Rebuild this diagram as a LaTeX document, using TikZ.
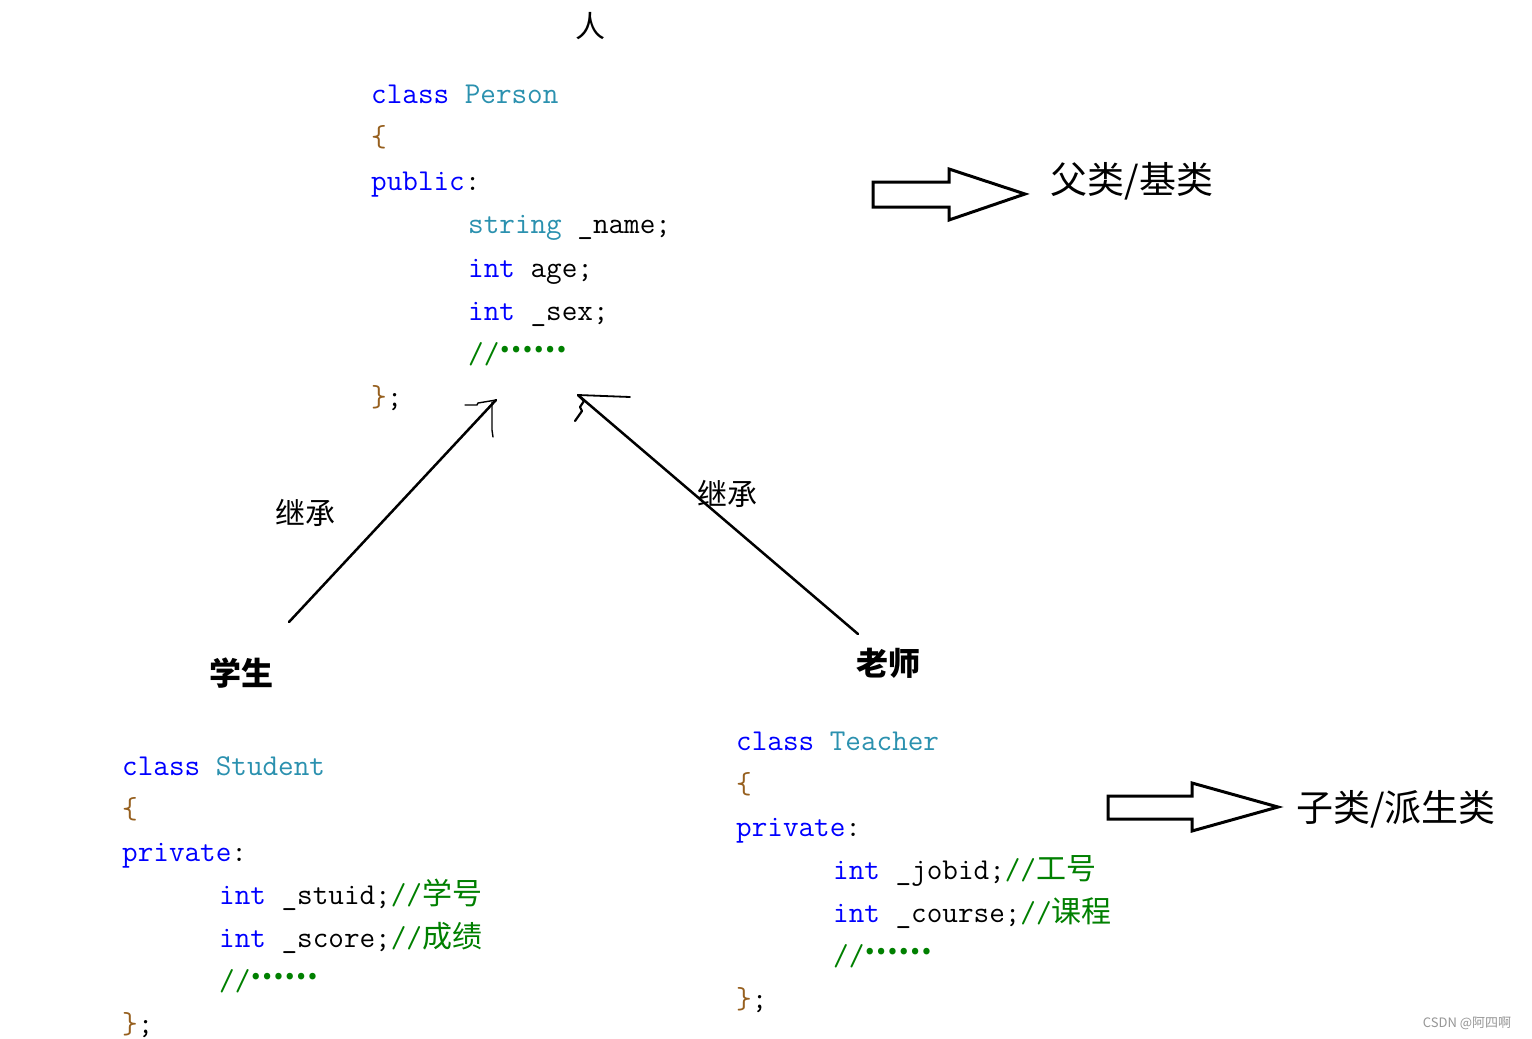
\documentclass[tikz,border=0pt]{standalone}
\usepackage{fontspec}
\newfontfamily\cjk{Noto Sans CJK SC}
\definecolor{kwblue}{RGB}{0,0,255}
\definecolor{tyteal}{RGB}{43,145,175}
\definecolor{brbrown}{RGB}{150,95,30}
\definecolor{cmgreen}{RGB}{0,128,0}
\definecolor{wmgray}{RGB}{150,150,150}
\newcommand\codefont{\ttfamily\fontsize{30.3}{32}\selectfont}
\newcommand\codekw[1]{\textcolor{kwblue}{#1}}
\newcommand\codety[1]{\textcolor{tyteal}{#1}}
\newcommand\codebr[1]{\textcolor{brbrown}{#1}}
\newcommand\codecm[1]{\textcolor{cmgreen}{#1}}
\newcommand\codezh[1]{{\cjk\fontsize{30}{30}\selectfont #1}}
\newcommand\codedots{\raisebox{11pt}{\cjk\bfseries\fontsize{30}{30}\selectfont ……}}
\tikzset{
  code/.style={anchor=base west, inner sep=0pt, font=\codefont},
  label/.style={inner sep=0pt, font=\cjk\fontsize{30}{30}\selectfont},
  title/.style={inner sep=0pt, font=\cjk\bfseries\fontsize{32}{32}\selectfont},
  role/.style={inner sep=0pt, font=\cjk\fontsize{37}{37}\selectfont},
  conn/.style={line width=2.5pt, line cap=round, line join=round},
  handstroke/.style={line width=1.4pt, line cap=round, line join=round},
  blockarrow/.style={line width=3pt, line join=miter, draw=black, fill=white},
}
\begin{document}
\begin{tikzpicture}[x=1pt,y=-1pt]
\useasboundingbox (0,0) rectangle (1532,1039);
\fill[white] (0,0) rectangle (1532,1039);

% title
\node[label] (ren) at (590,26) {人};

% Person
\node[code] (p1) at (371,103) {\codekw{class} \codety{Person}};
\node[code] (p2) at (371,146) {\codebr{\{}};
\node[code] (p3) at (371,190) {\codekw{public}:};
\node[code] (p4) at (468,233) {\codety{string} \_name;};
\node[code] (p5) at (468,277) {\codekw{int} age;};
\node[code] (p6) at (468,320) {\codekw{int} \_sex;};
\node[code] (p7) at (468,363) {\codecm{//\codedots}};
\node[code] (p8) at (371,406) {\codebr{\}};};

% base class label
\draw[blockarrow] (873,182) -- (949,182) -- (949,169) -- (1025,194) -- (949,220) -- (949,207) -- (873,207) -- cycle;
\node[role] (base) at (1132,181) {父类/基类};

% inheritance lines
\coordinate (sL) at (289,622);
\coordinate (pL) at (496,400);
\coordinate (tR) at (858,634);
\coordinate (pR) at (578,395);
\draw[conn] (sL) -- (pL);
\draw[handstroke] (465,405) -- (477,405) -- (478,403) -- (pL);
\draw[handstroke] (492,402) -- (492,430) -- (493,437);
\draw[conn] (tR) -- (pR);
\draw[handstroke, line width=1.8pt] (pR) -- (630,397);
\draw[conn, line width=2.2pt] (pR) -- (584,401) -- (580,407) -- (582,411) -- (575,421);
\node[label] (inhL) at (305,513) {继承};
\node[label] (inhR) at (727,494) {继承};

\node[title] (stu) at (241,673) {学生};
\node[title] (tea) at (888,663) {老师};

% Student
\node[code] (s1) at (122,775) {\codekw{class} \codety{Student}};
\node[code] (s2) at (122,818) {\codebr{\{}};
\node[code] (s3) at (122,861) {\codekw{private}:};
\node[code] (s4) at (219,904) {\codekw{int} \_stuid;\codecm{//\codezh{学号}}};
\node[code] (s5) at (219,947) {\codekw{int} \_score;\codecm{//\codezh{成绩}}};
\node[code] (s6) at (219,990) {\codecm{//\codedots}};
\node[code] (s7) at (122,1033) {\codebr{\}};};

% Teacher
\node[code] (t1) at (736,750) {\codekw{class} \codety{Teacher}};
\node[code] (t2) at (736,793) {\codebr{\{}};
\node[code] (t3) at (736,836) {\codekw{private}:};
\node[code] (t4) at (833,879) {\codekw{int} \_jobid;\codecm{//\codezh{工号}}};
\node[code] (t5) at (833,922) {\codekw{int} \_course;\codecm{//\codezh{课程}}};
\node[code] (t6) at (833,965) {\codecm{//\codedots}};
\node[code] (t7) at (736,1008) {\codebr{\}};};

% derived class label
\draw[blockarrow] (1108,796) -- (1192,796) -- (1192,783) -- (1278,807) -- (1192,831) -- (1192,819) -- (1108,819) -- cycle;
\node[role] (derived) at (1396,809) {子类/派生类};

% watermark
\node[inner sep=0pt, text=wmgray, font=\cjk\fontsize{13}{13}\selectfont] (wm) at (1467,1023) {CSDN @阿四啊};
\end{tikzpicture}
\end{document}
